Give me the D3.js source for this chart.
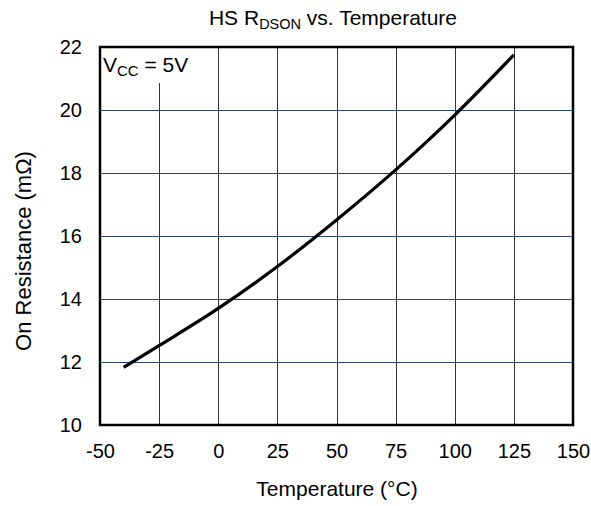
<!DOCTYPE html>
<html><head><meta charset="utf-8">
<script src="https://cdn.jsdelivr.net/npm/d3@7"></script>
<style>body{margin:0;background:#fff}svg{display:block}text{font-family:"Liberation Sans",Arial,sans-serif;fill:#000}</style>
</head><body>
<script>
const temps = [-40, -25, 0, 25, 50, 75, 100, 125];
const rdson = [11.83, 12.52, 13.70, 15.03, 16.51, 18.10, 19.84, 21.75];
const xTicks = [-50, -25, 0, 25, 50, 75, 100, 125, 150];
const yTicks = [10, 12, 14, 16, 18, 20, 22];

const W = 591, H = 506;
const m = {left: 100, right: 573, top: 47, bottom: 425};
const svg = d3.select("body").append("svg").attr("width", W).attr("height", H);
const x = d3.scaleLinear().domain([-50, 150]).range([m.left, m.right]);
const y = d3.scaleLinear().domain([10, 22]).range([m.bottom, m.top]);

// grid
svg.append("g").selectAll("line").data(xTicks.slice(1, -1)).join("line")
  .attr("x1", d => Math.round(x(d)) + 0.5).attr("x2", d => Math.round(x(d)) + 0.5)
  .attr("y1", m.top).attr("y2", m.bottom).attr("stroke", "#333").attr("stroke-width", 1);
svg.append("g").selectAll("line").data(yTicks.slice(1, -1)).join("line")
  .attr("y1", d => Math.round(y(d)) + 0.5).attr("y2", d => Math.round(y(d)) + 0.5)
  .attr("x1", m.left).attr("x2", m.right).attr("stroke", "#2a4570").attr("stroke-width", 1);

// annotation box
svg.append("rect").attr("x", m.left + 1).attr("y", m.top + 1).attr("width", 94).attr("height", 35).attr("fill", "#fff");
const ann = svg.append("text").attr("x", 103).attr("y", 72).attr("font-size", 21);
ann.append("tspan").text("V");
ann.append("tspan").attr("font-size", 15).attr("dy", 4).text("CC");
ann.append("tspan").attr("dy", -4).text(" = 5V");

// frame
svg.append("rect").attr("x", m.left).attr("y", m.top).attr("width", m.right - m.left).attr("height", m.bottom - m.top)
  .attr("fill", "none").attr("stroke", "#000").attr("stroke-width", 2.5);

// curve
const line = d3.line().x((d, i) => x(temps[i])).y(d => y(d)).curve(d3.curveMonotoneX);
svg.append("path").datum(rdson).attr("d", line).attr("fill", "none").attr("stroke", "#000").attr("stroke-width", 3.2).attr("stroke-linecap", "butt");

// axes labels
const fmt = d => String(d);
const xAxis = d3.axisBottom(x).tickValues(xTicks).tickFormat(fmt).tickSize(0).tickPadding(19);
const gx = svg.append("g").attr("transform", `translate(0,${m.bottom})`).call(xAxis);
gx.select(".domain").remove();
gx.selectAll("text").attr("font-size", 20).attr("font-family", '"Liberation Sans",Arial,sans-serif').attr("fill", "#000");

const yAxis = d3.axisLeft(y).tickValues(yTicks).tickFormat(fmt).tickSize(0).tickPadding(18);
const gy = svg.append("g").attr("transform", `translate(${m.left},0)`).call(yAxis);
gy.select(".domain").remove();
gy.selectAll("text").attr("font-size", 20).attr("font-family", '"Liberation Sans",Arial,sans-serif').attr("fill", "#000");

// title
const t = svg.append("text").attr("x", 333).attr("y", 25).attr("text-anchor", "middle").attr("font-size", 21);
t.append("tspan").text("HS R");
t.append("tspan").attr("font-size", 14.5).attr("dy", 4).text("DSON");
t.append("tspan").attr("dy", -4).text(" vs. Temperature");

svg.append("text").attr("x", 337).attr("y", 496).attr("text-anchor", "middle").attr("font-size", 21).text("Temperature (°C)");
svg.append("text").attr("transform", "translate(31,251) rotate(-90)").attr("text-anchor", "middle").attr("font-size", 22).text("On Resistance (mΩ)");
</script>
</body></html>
